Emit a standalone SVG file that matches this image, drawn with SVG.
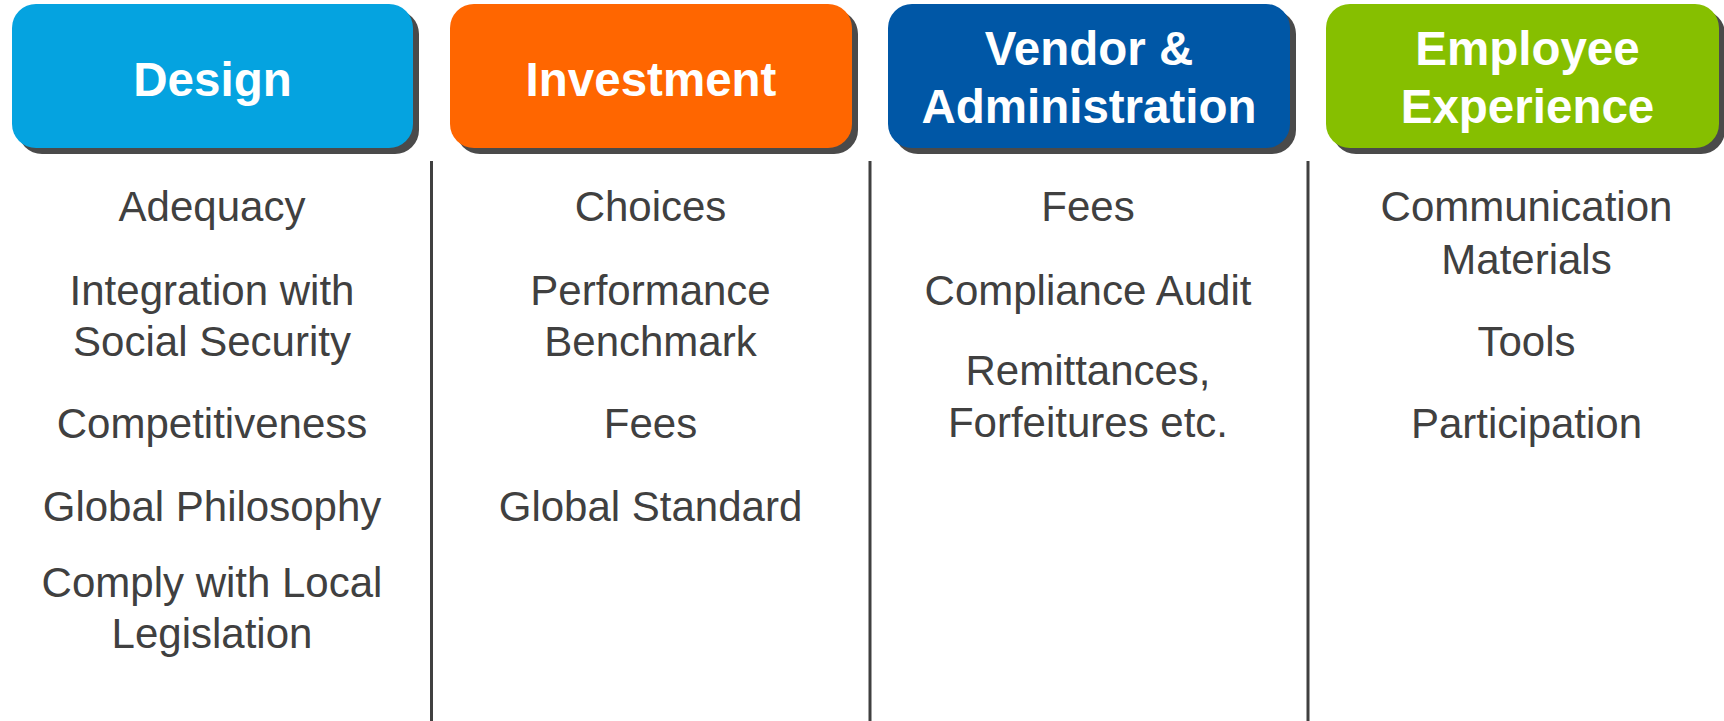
<svg xmlns="http://www.w3.org/2000/svg" width="1724" height="721" viewBox="0 0 1724 721">
  <style>
    .shadow { fill: #4a4a4a; }
    .head { font-family: "Liberation Sans", Arial, sans-serif; font-weight: bold; font-size: 47.5px; fill: #ffffff; text-anchor: middle; }
    .item { font-family: "Liberation Sans", Arial, sans-serif; font-size: 42px; fill: #404040; text-anchor: middle; }
    .divider { stroke: #404040; stroke-width: 3; fill: none; }
  </style>
  <rect width="1724" height="721" fill="#ffffff"/>

  <!-- column dividers -->
  <g id="dividers">
    <line class="divider" x1="431.5" y1="161" x2="431.5" y2="721"/>
    <line class="divider" x1="870" y1="161" x2="870" y2="721"/>
    <line class="divider" x1="1308" y1="161" x2="1308" y2="721"/>
  </g>

  <!-- Design column -->
  <g id="design">
    <rect class="shadow" x="18" y="10" width="401" height="144" rx="24"/>
    <rect x="12" y="4" width="401" height="144" rx="24" fill="#05a3e0"/>
    <text class="head" x="212.5" y="96">Design</text>
    <text class="item" x="212" y="221">Adequacy</text>
    <text class="item" x="212" y="305">Integration with</text>
    <text class="item" x="212" y="356">Social Security</text>
    <text class="item" x="212" y="438">Competitiveness</text>
    <text class="item" x="212" y="521">Global Philosophy</text>
    <text class="item" x="212" y="597">Comply with Local</text>
    <text class="item" x="212" y="648">Legislation</text>
  </g>

  <!-- Investment column -->
  <g id="investment">
    <rect class="shadow" x="456" y="10" width="402" height="144" rx="24"/>
    <rect x="450" y="4" width="402" height="144" rx="24" fill="#ff6600"/>
    <text class="head" x="651" y="96">Investment</text>
    <text class="item" x="650.5" y="221">Choices</text>
    <text class="item" x="650.5" y="305">Performance</text>
    <text class="item" x="650.5" y="356">Benchmark</text>
    <text class="item" x="650.5" y="438">Fees</text>
    <text class="item" x="650.5" y="521">Global Standard</text>
  </g>

  <!-- Vendor & Administration column -->
  <g id="vendor-administration">
    <rect class="shadow" x="894" y="10" width="402" height="144" rx="24"/>
    <rect x="888" y="4" width="402" height="144" rx="24" fill="#0057a6"/>
    <text class="head" x="1089" y="65">Vendor &amp;</text>
    <text class="head" x="1089" y="123">Administration</text>
    <text class="item" x="1088" y="221">Fees</text>
    <text class="item" x="1088" y="305">Compliance Audit</text>
    <text class="item" x="1088" y="385">Remittances,</text>
    <text class="item" x="1088" y="437">Forfeitures etc.</text>
  </g>

  <!-- Employee Experience column -->
  <g id="employee-experience">
    <rect class="shadow" x="1332" y="10" width="393" height="144" rx="24"/>
    <rect x="1326" y="4" width="393" height="144" rx="24" fill="#86bf00"/>
    <text class="head" x="1527.5" y="65">Employee</text>
    <text class="head" x="1527.5" y="123">Experience</text>
    <text class="item" x="1526.5" y="221">Communication</text>
    <text class="item" x="1526.5" y="273.5">Materials</text>
    <text class="item" x="1526.5" y="356">Tools</text>
    <text class="item" x="1526.5" y="438">Participation</text>
  </g>
</svg>
